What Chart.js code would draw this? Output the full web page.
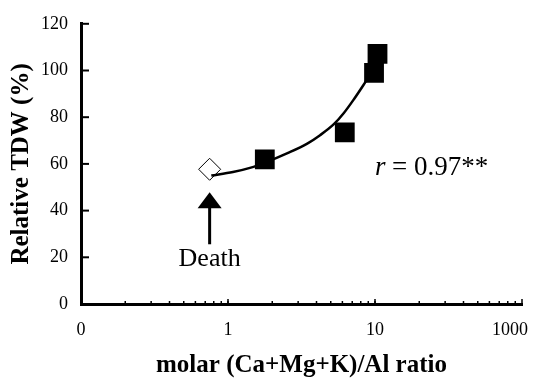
<!DOCTYPE html>
<html>
<head>
<meta charset="utf-8">
<script src="https://cdn.jsdelivr.net/npm/chart.js@4.4.1/dist/chart.umd.min.js"></script>
<style>
  html, body { margin: 0; padding: 0; background: #fff; }
  #wrap { width: 536px; height: 383px; }
</style>
</head>
<body>
<div id="wrap"><canvas id="myChart" width="536" height="383"></canvas></div>
<script>
// Datos
const ratioSquares = [1.78, 6.23, 9.85, 10.4];
const tdwSquares = [61.9, 73.5, 99.0, 107.1];
const ratioDeath = [0.75];
const tdwDeath = [57.7];
// curva de ajuste (puntos leidos sobre la linea)
const ratioCurve = [0.77, 1.08, 1.41, 1.86, 2.54, 3.46, 4.23, 5.25, 6.14, 7.17, 8.37, 9.04];
const tdwCurve = [55.0, 56.5, 58.3, 61.0, 64.6, 68.7, 72.3, 77.0, 81.8, 87.6, 93.9, 97.2];
// ticks
const xTickValues = [0.1, 1, 10, 100];
const xTickLabels = ['0', '1', '10', '1000'];
const yTickValues = [0, 20, 40, 60, 80, 100, 120];
const yTickLabels = ['0', '20', '40', '60', '80', '100', '120'];

const serif = '"Liberation Serif", "Times New Roman", serif';

const toPoints = (xs, ys) => xs.map((v, i) => ({ x: v, y: ys[i] }));

// ticks hacia dentro, flecha y textos
const decorPlugin = {
    id: 'decor',
    beforeDraw(chart) {
        // la ultima etiqueta del eje x va un poco hacia dentro, como en la figura
        const items = chart.scales.x.getLabelItems();
        const last = items[items.length - 1];
        if (last && !last._moved) {
            last.options.translation[0] -= 12;
            last._moved = true;
        }
    },
    afterDraw(chart) {
        const { ctx, scales: { x, y } } = chart;
        ctx.save();
        ctx.strokeStyle = '#000';
        ctx.fillStyle = '#000';

        // ticks del eje y
        ctx.lineWidth = 2;
        yTickValues.forEach(v => {
            const py = y.getPixelForValue(v);
            ctx.beginPath();
            ctx.moveTo(x.left, py);
            ctx.lineTo(x.left + 8, py);
            ctx.stroke();
        });

        // ticks menores del eje x (log)
        ctx.lineWidth = 1.5;
        for (let d = 0.1; d < 100; d *= 10) {
            for (let k = 1; k <= 10; k++) {
                const v = d * k;
                if (v <= 0.1) continue;
                const px = x.getPixelForValue(v);
                const len = k === 10 ? 5 : 3;
                ctx.beginPath();
                ctx.moveTo(px, y.bottom);
                ctx.lineTo(px, y.bottom - len);
                ctx.stroke();
            }
        }

        // flecha "Death"
        const ax = x.getPixelForValue(ratioDeath[0]);
        const tipY = y.getPixelForValue(tdwDeath[0]) + 23;
        ctx.lineWidth = 3;
        ctx.beginPath();
        ctx.moveTo(ax, tipY + 12);
        ctx.lineTo(ax, tipY + 52);
        ctx.stroke();
        ctx.beginPath();
        ctx.moveTo(ax, tipY);
        ctx.lineTo(ax + 12, tipY + 16);
        ctx.lineTo(ax - 12, tipY + 16);
        ctx.closePath();
        ctx.fill();

        ctx.font = '26px ' + serif;
        ctx.textAlign = 'center';
        ctx.textBaseline = 'alphabetic';
        ctx.fillText('Death', ax, tipY + 74);

        // coeficiente
        ctx.textAlign = 'left';
        ctx.font = 'italic 27px ' + serif;
        ctx.fillText('r', 375, 175);
        ctx.font = '27px ' + serif;
        ctx.fillText('= 0.97**', 392, 175);

        ctx.restore();
    }
};

function createChart() {
    const ctx = document.getElementById('myChart').getContext('2d');
    new Chart(ctx, {
        type: 'scatter',
        data: {
            datasets: [
                {
                    label: 'ajuste',
                    data: toPoints(ratioCurve, tdwCurve),
                    showLine: true,
                    borderColor: '#000',
                    borderWidth: 2.5,
                    pointRadius: 0,
                    cubicInterpolationMode: 'monotone'
                },
                {
                    label: 'Death',
                    data: toPoints(ratioDeath, tdwDeath),
                    pointStyle: 'rectRot',
                    pointRadius: 11,
                    backgroundColor: '#fff',
                    borderColor: '#000',
                    borderWidth: 1
                },
                {
                    label: 'TDW',
                    data: toPoints(ratioSquares, tdwSquares),
                    pointStyle: 'rect',
                    pointRadius: 14,
                    backgroundColor: '#000',
                    borderColor: '#000',
                    borderWidth: 0
                }
            ]
        },
        options: {
            responsive: false,
            animation: false,
            layout: { padding: { top: 15, right: 9, left: 0, bottom: 0 } },
            plugins: {
                legend: { display: false },
                tooltip: { enabled: false }
            },
            scales: {
                x: {
                    type: 'logarithmic',
                    min: 0.1,
                    max: 100,
                    afterBuildTicks: (scale) => {
                        scale.ticks = xTickValues.map(v => ({ value: v }));
                    },
                    afterFit: (scale) => {
                        scale.height = 79;
                        scale.paddingLeft = 0;
                        scale.paddingRight = 0;
                    },
                    grid: { display: false, drawTicks: false },
                    border: { display: true, color: '#000', width: 3 },
                    ticks: {
                        autoSkip: false,
                        maxRotation: 0,
                        padding: 15,
                        color: '#000',
                        font: { family: serif, size: 18 },
                        callback: (v, i) => xTickLabels[i]
                    },
                    title: {
                        display: true,
                        text: 'molar (Ca+Mg+K)/Al ratio',
                        color: '#000',
                        font: { family: serif, size: 25, weight: 'bold' },
                        padding: { top: 0, bottom: 2 }
                    }
                },
                y: {
                    min: 0,
                    max: 120,
                    afterBuildTicks: (scale) => {
                        scale.ticks = yTickValues.map(v => ({ value: v }));
                    },
                    afterFit: (scale) => {
                        scale.width = 81;
                    },
                    grid: { display: false, drawTicks: false },
                    border: { display: true, color: '#000', width: 3 },
                    ticks: {
                        padding: 13,
                        color: '#000',
                        font: { family: serif, size: 18 },
                        callback: (v, i) => yTickLabels[i]
                    },
                    title: {
                        display: true,
                        text: 'Relative TDW (%)',
                        color: '#000',
                        font: { family: serif, size: 25, weight: 'bold' },
                        padding: { top: 7, bottom: 0 }
                    }
                }
            }
        },
        plugins: [decorPlugin]
    });
}

document.addEventListener("DOMContentLoaded", () => {
    createChart();
});
</script>
</body>
</html>
